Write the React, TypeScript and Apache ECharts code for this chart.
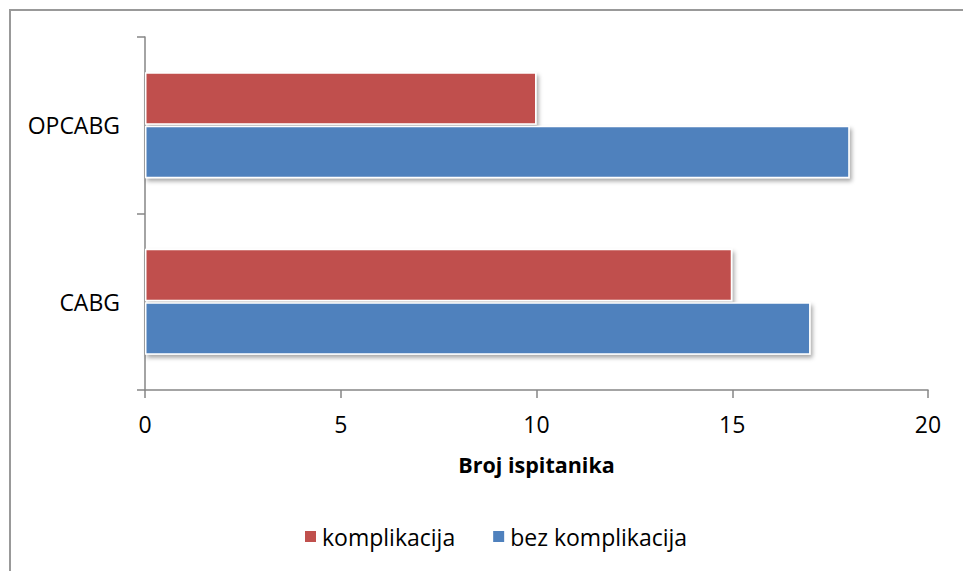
import React, { useEffect, useRef } from "react";
import * as echarts from "echarts";

const categories = ["CABG", "OPCABG"];
const komplikacija = [15, 10];
const bezKomplikacija = [17, 18];
const xTicks = { min: 0, max: 20, interval: 5 };

const FONT = "'Open Sans', 'Noto Sans', sans-serif";

export default function App() {
  const ref = useRef<HTMLDivElement>(null);
  useEffect(() => {
    if (!ref.current) return;
    const chart = echarts.init(ref.current, undefined, { renderer: "svg" });
    const barStyle = (color: string) => ({
      color,
      borderColor: "#ffffff",
      borderWidth: 1.5,
      shadowColor: "rgba(0,0,0,0.35)",
      shadowBlur: 4,
      shadowOffsetX: 2,
      shadowOffsetY: 3,
    });
    chart.setOption({
      animation: false,
      backgroundColor: "#ffffff",
      textStyle: { fontFamily: FONT },
      grid: { left: 145, right: 35, top: 37, bottom: 181, containLabel: false },
      legend: {
        data: ["komplikacija", "bez komplikacija"],
        left: 298,
        top: 520,
        icon: "rect",
        itemWidth: 13,
        itemHeight: 13,
        itemGap: 36,
        textStyle: { fontFamily: FONT, fontSize: 23, color: "#000000" },
      },
      xAxis: {
        type: "value",
        min: xTicks.min,
        max: xTicks.max,
        interval: xTicks.interval,
        name: "Broj ispitanika",
        nameLocation: "middle",
        nameGap: 63,
        nameTextStyle: { fontFamily: FONT, fontSize: 21.5, fontWeight: "bold", color: "#000000" },
        axisLine: { show: true, lineStyle: { color: "#868686", width: 1.5 } },
        axisTick: { show: true, length: 8, lineStyle: { color: "#868686", width: 1.5 } },
        axisLabel: { fontFamily: FONT, fontSize: 23, color: "#000000", margin: 22 },
        splitLine: { show: false },
      },
      yAxis: {
        type: "category",
        data: categories,
        axisLine: { show: true, lineStyle: { color: "#868686", width: 1.5 } },
        axisTick: { show: true, length: 8, alignWithLabel: false, lineStyle: { color: "#868686", width: 1.5 } },
        axisLabel: { fontFamily: FONT, fontSize: 23, color: "#000000", margin: 25 },
      },
      series: [
        {
          name: "komplikacija",
          type: "bar",
          data: komplikacija,
          barGap: "2%",
          barCategoryGap: "40%",
          itemStyle: barStyle("#C0504D"),
        },
        {
          name: "bez komplikacija",
          type: "bar",
          data: bezKomplikacija,
          barGap: "2%",
          barCategoryGap: "40%",
          itemStyle: barStyle("#4F81BD"),
        },
      ],
      graphic: [
        {
          type: "polyline",
          shape: { points: [[10, 571], [10, 10], [963, 10]] },
          style: { stroke: "#999999", lineWidth: 2, fill: "none" },
          silent: true,
        },
      ],
    });
    return () => chart.dispose();
  }, []);
  return (
    <div
      ref={ref}
      style={{ position: "absolute", left: 0, top: 0, width: 963, height: 571 }}
    />
  );
}
